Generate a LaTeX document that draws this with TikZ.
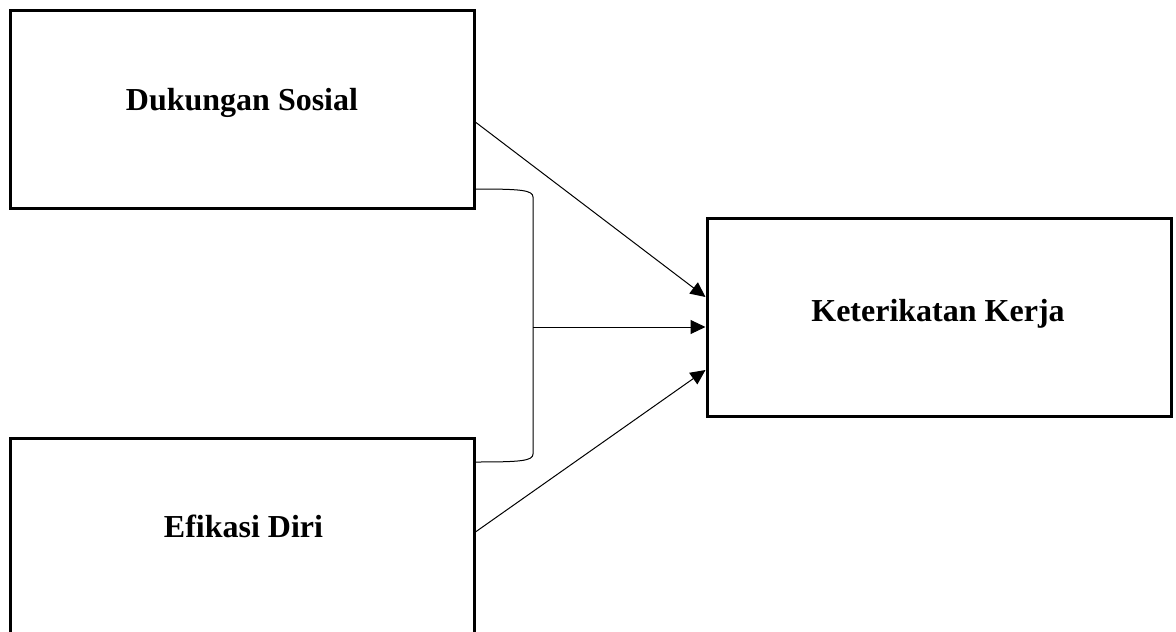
\documentclass[tikz,border=0pt]{standalone}
\usepackage{fontspec}
\setmainfont{Liberation Serif}
\usetikzlibrary{arrows.meta}
\begin{document}
\begin{tikzpicture}[x=1pt,y=-1pt,
  box/.style={draw,line width=3pt,inner sep=0pt},
  lbl/.style={font=\fontsize{32}{36}\selectfont\bfseries,anchor=base,inner sep=0pt},
  conn/.style={line width=1pt},
  arr/.style={conn,-{Triangle[length=15pt,width=14pt]}}]
\useasboundingbox (0,0) rectangle (1176,632);
\begin{scope}
\clip (0,0) rectangle (1176,632);
\node[box,minimum width=464pt,minimum height=198pt] (ds) at (242,109) {};
\node[box,minimum width=464pt,minimum height=210pt] (ed) at (242,543) {};
\node[box,minimum width=464pt,minimum height=198pt] (kk) at (939,317) {};
\end{scope}
\node[lbl] (tds) at (242,110) {Dukungan Sosial};
\node[lbl] (ted) at (243.5,537) {Efikasi Diri};
\node[lbl] (tkk) at (938,321) {Keterikatan Kerja};
\coordinate (b1) at (476,189);
\coordinate (b2) at (476,462);
\coordinate (bm) at (533,327);
\draw[conn] (b1) .. controls (520,189) and (533,190) .. (533,197) -- (533,454) .. controls (533,461) and (520,462) .. (b2);
\draw[arr] (474,121) -- (kk.west |- 0,297);
\draw[arr] (bm) -- (kk.west |- bm);
\draw[arr] (474,533) -- (kk.west |- 0,370);
\end{tikzpicture}
\end{document}
